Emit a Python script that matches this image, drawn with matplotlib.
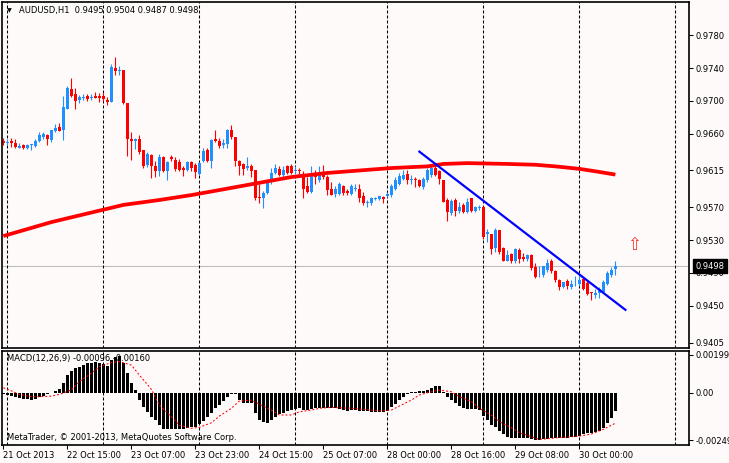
import matplotlib
matplotlib.use("Agg")
import matplotlib.pyplot as plt
from matplotlib.transforms import blended_transform_factory

# AUDUSD H1 candles, one bar per hour (bar 0 = 21 Oct 23:00)
opens = [0.9651, 0.9648, 0.9651, 0.9649, 0.9643, 0.9646, 0.9643, 0.9646, 0.9645, 0.9651,
         0.9656, 0.9658, 0.9652, 0.9663, 0.9668, 0.9664, 0.9690, 0.9714, 0.9708, 0.9701,
         0.9703, 0.9706, 0.9703, 0.9706, 0.9706, 0.9706, 0.9701, 0.9699, 0.9740, 0.9737,
         0.9738, 0.9697, 0.9653, 0.9651, 0.9654, 0.9640, 0.9622, 0.9634, 0.9620, 0.9614,
         0.9632, 0.9614, 0.9631, 0.9628, 0.9625, 0.9618, 0.9616, 0.9625, 0.9622, 0.9611,
         0.9626, 0.9640, 0.9627, 0.9653, 0.9651, 0.9646, 0.9647, 0.9665, 0.9656, 0.9626,
         0.9623, 0.9618, 0.9621, 0.9616, 0.9583, 0.9582, 0.9588, 0.9601, 0.9612, 0.9617,
         0.9609, 0.9620, 0.9620, 0.9614, 0.9616, 0.9609, 0.9596, 0.9589, 0.9612, 0.9603,
         0.9612, 0.9607, 0.9593, 0.9586, 0.9586, 0.9596, 0.9590, 0.9586, 0.9592, 0.9593,
         0.9584, 0.9575, 0.9575, 0.9580, 0.9580, 0.9583, 0.9584, 0.9585, 0.9593, 0.9599,
         0.9605, 0.9611, 0.9603, 0.9605, 0.9603, 0.9595, 0.9603, 0.9609, 0.9618, 0.9614,
         0.9603, 0.9579, 0.9563, 0.9579, 0.9565, 0.9573, 0.9564, 0.9582, 0.9565, 0.9569,
         0.9571, 0.9537, 0.9538, 0.9520, 0.9542, 0.9520, 0.9505, 0.9513, 0.9504, 0.9518,
         0.9510, 0.9507, 0.9512, 0.9497, 0.9487, 0.9487, 0.9494, 0.9504, 0.9492, 0.9481,
         0.9473, 0.9480, 0.9473, 0.9476, 0.9476, 0.9482, 0.9478, 0.9467, 0.9463, 0.9465,
         0.9467, 0.9476, 0.9488, 0.9495]
highs = [0.9655, 0.9653, 0.9655, 0.9653, 0.9649, 0.9647, 0.9647, 0.9647, 0.9653, 0.9662,
         0.9662, 0.9660, 0.9665, 0.9672, 0.9673, 0.9706, 0.9718, 0.9728, 0.9716, 0.9707,
         0.9708, 0.9708, 0.9708, 0.9711, 0.9709, 0.9709, 0.9705, 0.9745, 0.9754, 0.9743,
         0.9738, 0.9697, 0.9662, 0.9655, 0.9658, 0.9640, 0.9637, 0.9635, 0.9626, 0.9635,
         0.9633, 0.9626, 0.9634, 0.9632, 0.9629, 0.9620, 0.9626, 0.9626, 0.9624, 0.9625,
         0.9642, 0.9642, 0.9653, 0.9664, 0.9655, 0.9653, 0.9666, 0.9670, 0.9656, 0.9628,
         0.9624, 0.9632, 0.9623, 0.9616, 0.9599, 0.9590, 0.9603, 0.9618, 0.9623, 0.9620,
         0.9620, 0.9622, 0.9623, 0.9620, 0.9618, 0.9614, 0.9607, 0.9620, 0.9616, 0.9620,
         0.9622, 0.9609, 0.9601, 0.9596, 0.9601, 0.9597, 0.9593, 0.9599, 0.9599, 0.9599,
         0.9589, 0.9579, 0.9583, 0.9583, 0.9584, 0.9584, 0.9589, 0.9599, 0.9607, 0.9612,
         0.9615, 0.9615, 0.9609, 0.9607, 0.9605, 0.9607, 0.9618, 0.9622, 0.9623, 0.9616,
         0.9604, 0.9581, 0.9580, 0.9581, 0.9576, 0.9575, 0.9581, 0.9582, 0.9572, 0.9573,
         0.9572, 0.9544, 0.9538, 0.9545, 0.9542, 0.9522, 0.9518, 0.9514, 0.9520, 0.9520,
         0.9514, 0.9513, 0.9513, 0.9502, 0.9498, 0.9499, 0.9507, 0.9507, 0.9494, 0.9482,
         0.9479, 0.9482, 0.9481, 0.9486, 0.9487, 0.9485, 0.9481, 0.9467, 0.9470, 0.9473,
         0.9481, 0.9492, 0.9497, 0.9504]
lows = [0.9646, 0.9646, 0.9644, 0.9643, 0.9642, 0.9641, 0.9641, 0.9640, 0.9644, 0.9650,
        0.9653, 0.9646, 0.9650, 0.9662, 0.9663, 0.9652, 0.9690, 0.9705, 0.9690, 0.9697,
        0.9701, 0.9700, 0.9701, 0.9703, 0.9699, 0.9700, 0.9695, 0.9698, 0.9731, 0.9732,
        0.9696, 0.9633, 0.9628, 0.9641, 0.9635, 0.9618, 0.9619, 0.9606, 0.9607, 0.9608,
        0.9613, 0.9603, 0.9626, 0.9614, 0.9614, 0.9608, 0.9614, 0.9614, 0.9606, 0.9610,
        0.9625, 0.9625, 0.9618, 0.9650, 0.9642, 0.9642, 0.9642, 0.9654, 0.9620, 0.9610,
        0.9609, 0.9616, 0.9607, 0.9579, 0.9575, 0.9569, 0.9586, 0.9599, 0.9611, 0.9608,
        0.9607, 0.9611, 0.9611, 0.9611, 0.9611, 0.9581, 0.9587, 0.9588, 0.9599, 0.9601,
        0.9605, 0.9585, 0.9585, 0.9583, 0.9585, 0.9585, 0.9585, 0.9585, 0.9590, 0.9577,
        0.9573, 0.9570, 0.9573, 0.9579, 0.9579, 0.9575, 0.9583, 0.9583, 0.9591, 0.9597,
        0.9604, 0.9599, 0.9599, 0.9595, 0.9595, 0.9593, 0.9601, 0.9607, 0.9608, 0.9598,
        0.9577, 0.9553, 0.9561, 0.9559, 0.9563, 0.9563, 0.9563, 0.9564, 0.9564, 0.9567,
        0.9532, 0.9528, 0.9513, 0.9515, 0.9513, 0.9504, 0.9504, 0.9502, 0.9502, 0.9502,
        0.9505, 0.9505, 0.9494, 0.9484, 0.9485, 0.9485, 0.9491, 0.9490, 0.9479, 0.9469,
        0.9472, 0.9471, 0.9471, 0.9474, 0.9474, 0.9469, 0.9463, 0.9457, 0.9460, 0.9459,
        0.9466, 0.9475, 0.9485, 0.9487]
closes = [0.9648, 0.9650, 0.9648, 0.9644, 0.9645, 0.9642, 0.9646, 0.9647, 0.9651, 0.9658,
          0.9660, 0.9653, 0.9664, 0.9667, 0.9663, 0.9692, 0.9716, 0.9706, 0.9700, 0.9705,
          0.9705, 0.9702, 0.9705, 0.9704, 0.9703, 0.9702, 0.9698, 0.9741, 0.9736, 0.9738,
          0.9697, 0.9653, 0.9651, 0.9654, 0.9637, 0.9620, 0.9635, 0.9620, 0.9614, 0.9632,
          0.9614, 0.9625, 0.9629, 0.9617, 0.9616, 0.9616, 0.9625, 0.9618, 0.9613, 0.9624,
          0.9639, 0.9626, 0.9652, 0.9651, 0.9645, 0.9648, 0.9664, 0.9656, 0.9626, 0.9621,
          0.9617, 0.9620, 0.9614, 0.9581, 0.9581, 0.9588, 0.9600, 0.9612, 0.9618, 0.9609,
          0.9615, 0.9612, 0.9612, 0.9615, 0.9614, 0.9593, 0.9589, 0.9611, 0.9607, 0.9612,
          0.9607, 0.9591, 0.9585, 0.9592, 0.9599, 0.9587, 0.9587, 0.9596, 0.9594, 0.9582,
          0.9575, 0.9577, 0.9581, 0.9582, 0.9584, 0.9580, 0.9586, 0.9596, 0.9604, 0.9608,
          0.9609, 0.9603, 0.9605, 0.9603, 0.9596, 0.9605, 0.9615, 0.9618, 0.9609, 0.9605,
          0.9577, 0.9564, 0.9578, 0.9566, 0.9571, 0.9564, 0.9577, 0.9565, 0.9571, 0.9571,
          0.9534, 0.9540, 0.9519, 0.9542, 0.9515, 0.9505, 0.9512, 0.9504, 0.9519, 0.9507,
          0.9507, 0.9512, 0.9496, 0.9485, 0.9488, 0.9498, 0.9502, 0.9492, 0.9481, 0.9473,
          0.9479, 0.9474, 0.9477, 0.9477, 0.9481, 0.9471, 0.9464, 0.9465, 0.9466, 0.9471,
          0.9479, 0.9490, 0.9494, 0.9498]

# red moving average, read at a handful of bars
ma_bars = [0, 12, 24, 30, 39, 47, 55, 64, 72, 81, 89, 97, 106, 110, 116, 126, 133, 138, 144, 148, 153]
ma_values = [0.9535, 0.9552, 0.9566, 0.9573, 0.9579, 0.9585, 0.9592, 0.9600, 0.9607, 0.9612, 0.9615,
             0.9618, 0.9620, 0.9623, 0.9624, 0.9623, 0.9622, 0.9620, 0.9617, 0.9614, 0.9610]

# hand drawn trend line
trend_bars = [104, 155.5]
trend_prices = [0.9638, 0.9445]

# MACD(12,26,9) histogram, one value per bar (x 1e-5)
macd_hist = [-9, -12, -16, -21, -26, -32, -35, -37, -32, -25,
             -18, -9, -2, 10, 18, 49, 93, 114, 128, 137,
             147, 154, 158, 161, 156, 151, 142, 172, 186, 193,
             158, 102, 53, 14, -39, -74, -100, -126, -144, -170,
             -193, -193, -193, -193, -193, -193, -187, -182, -179, -165,
             -147, -126, -109, -82, -65, -44, -21, -7, -9, -39,
             -53, -56, -56, -109, -144, -156, -158, -144, -126, -112,
             -105, -96, -91, -88, -82, -91, -91, -86, -82, -82,
             -79, -79, -79, -82, -86, -91, -95, -91, -91, -95,
             -95, -96, -100, -103, -103, -100, -95, -74, -60, -39,
             -21, -9, 4, 5, 7, 9, 14, 23, 35, 35,
             5, -25, -39, -56, -68, -82, -86, -86, -86, -91,
             -123, -144, -170, -182, -200, -219, -231, -240, -240, -240,
             -240, -240, -243, -249, -249, -245, -243, -240, -240, -236,
             -236, -236, -235, -231, -228, -217, -210, -210, -205, -201,
             -187, -158, -135, -96]
signal_bars = [0, 2, 4, 7, 9, 12, 14, 17, 19, 22, 24, 27, 29, 32, 34, 37, 39, 42, 44, 47,
               49, 52, 54, 57, 59, 62, 64, 67, 69, 72, 74, 77, 79, 82, 84, 87, 89, 92, 94, 97,
               99, 102, 104, 107, 109, 112, 114, 117, 119, 122, 124, 127, 129, 132, 134, 137,
               139, 142, 144, 147, 150, 153]
signal_values = [26, 10, -9, -21, -21, -18, -9, 14, 58, 102, 137, 158, 163, 145, 93, 18, -65, -126,
                 -170, -187, -182, -158, -123, -82, -44, -39, -60, -91, -117, -117, -100, -91, -82,
                 -77, -79, -82, -86, -91, -96, -91, -70, -39, -12, 5, 14, 5, -21, -47, -82, -117,
                 -152, -184, -210, -231, -245, -240, -235, -231, -228, -217, -192, -160]

price_ticks = [0.9780, 0.9740, 0.9700, 0.9660, 0.9615, 0.9570, 0.9530, 0.9490, 0.9450, 0.9405]
macd_ticks = [0.00199, 0.0, -0.00249]
macd_labels = ["0.00199", "0.00", "-0.00249"]
time_ticks = [0, 16, 32, 48, 64, 80, 96, 112, 128, 144]
time_labels = ["21 Oct 2013", "22 Oct 15:00", "23 Oct 07:00", "23 Oct 23:00", "24 Oct 15:00",
               "25 Oct 07:00", "28 Oct 00:00", "28 Oct 16:00", "29 Oct 08:00", "30 Oct 00:00"]
day_lines = [1, 25, 49, 73, 96, 120, 144, 168]
last_price = 0.9498

BG = "#FFFAFA"
BULL = "#1E90FF"
BEAR = "#FF0000"
FS = 6

plt.rcParams["font.family"] = ["DejaVu Sans"]

fig = plt.figure(figsize=(7.29, 4.63), dpi=100, facecolor=BG)
W, H = 729, 463
ax = fig.add_axes([2 / W, 1 - 348 / H, 687 / W, 346 / H], facecolor=BG)
ax2 = fig.add_axes([2 / W, 1 - 445 / H, 687 / W, 94 / H], facecolor=BG, sharex=ax)

# candles
bars = range(len(opens))
colors = [BULL if c >= o else BEAR for o, c in zip(opens, closes)]
ax.vlines(bars, lows, highs, colors=colors, linewidth=0.8, zorder=2)
bottoms = [min(o, c) for o, c in zip(opens, closes)]
heights = [max(abs(c - o), 0.00008) for o, c in zip(opens, closes)]
ax.bar(bars, heights, bottom=bottoms, width=0.75, color=colors, linewidth=0, zorder=2)

ax.plot(ma_bars, ma_values, color="#FF0000", linewidth=2.7, solid_capstyle="butt", zorder=3)
ax.plot(trend_bars, trend_prices, color="#0000FF", linewidth=1.6, zorder=3)
ax.axhline(last_price, color="#C0C0C0", linewidth=0.8, zorder=1)
ax.text(157.8, 0.9524, "\u21e7", color="#FF3030", fontsize=12, ha="center", va="center", zorder=4)

for a in (ax, ax2):
    for d in day_lines:
        a.axvline(d, color="black", linewidth=0.75, linestyle=(0, (2.9, 1.9)), zorder=1)
    for s in a.spines.values():
        s.set_color("black")
        s.set_linewidth(1.2)
    a.yaxis.tick_right()
    a.tick_params(axis="y", direction="out", length=3, width=0.75, pad=2, labelsize=FS)

ax.set_xlim(-0.33, 171.4)
ax.set_ylim(0.93984, 0.98206)
ax.set_yticks(price_ticks)
ax.set_yticklabels([f"{p:.4f}" for p in price_ticks])
ax.tick_params(axis="x", bottom=False, labelbottom=False)

# current price marker
tr = blended_transform_factory(ax.transAxes, ax.transData)
ax.text(1.0 + 6 / 687, last_price, f"{last_price:.4f}", transform=tr, color="white", fontsize=FS,
        ha="left", va="center", clip_on=False, zorder=10,
        bbox=dict(boxstyle="square,pad=0.3", fc="black", ec="black"))

# MACD panel
hist = [v * 1e-5 for v in macd_hist]
sig = [v * 1e-5 for v in signal_values]
ax2.bar(bars, hist, width=0.7, color="black", linewidth=0, zorder=2)
ax2.plot(signal_bars, sig, color="#FF0000", linewidth=0.75, linestyle=(0, (1.9, 1.9)), zorder=3)
ax2.set_ylim(-0.002746, 0.00219)
ax2.set_yticks(macd_ticks)
ax2.set_yticklabels(macd_labels)
ax2.set_xticks(time_ticks)
ax2.set_xticklabels(time_labels)
ax2.tick_params(axis="x", direction="out", length=3, width=0.75, pad=1, labelsize=FS)
for lab in ax2.get_xticklabels():
    lab.set_ha("left")

fig.text(9 / W, 1 - 10.5 / H, "\u25bc", fontsize=4.5, ha="center", va="center")
fig.text(19 / W, 1 - 10.5 / H, "AUDUSD,H1  0.9495 0.9504 0.9487 0.9498", fontsize=FS,
         ha="left", va="center")
fig.text(7 / W, 1 - 359 / H, "MACD(12,26,9) -0.00096 -0.00160", fontsize=FS, ha="left", va="center")
fig.text(7 / W, 1 - 437 / H, "MetaTrader, \u00a9 2001-2013, MetaQuotes Software Corp.", fontsize=FS,
         ha="left", va="center")

fig.savefig("out.png", dpi=100, facecolor=BG)
